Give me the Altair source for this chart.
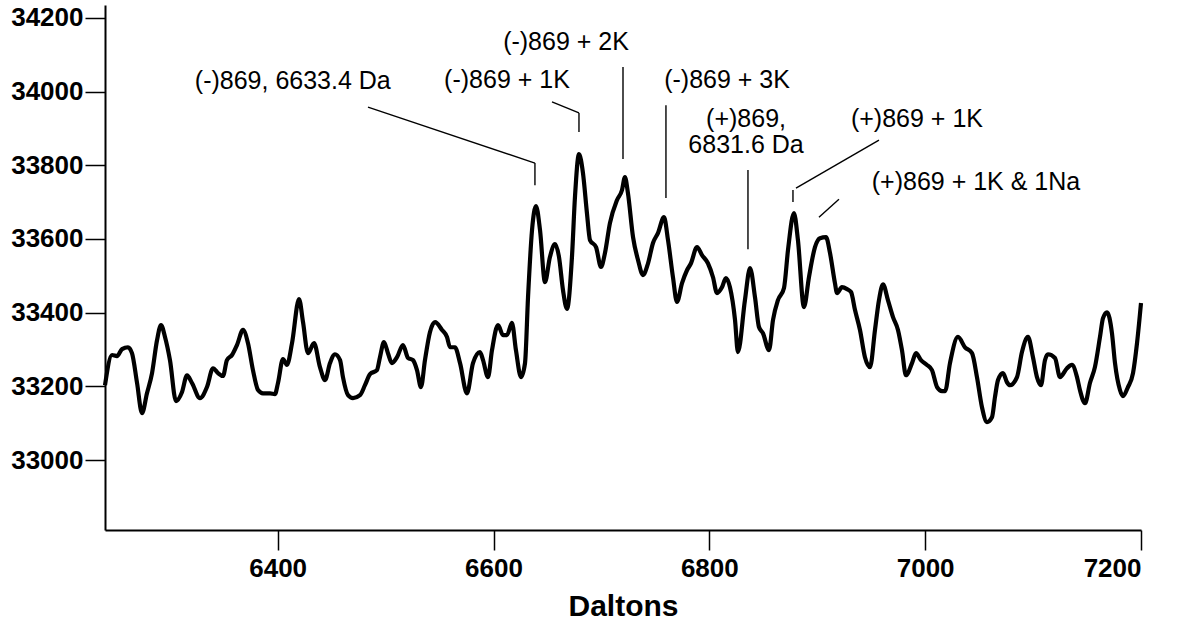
import altair as alt
import pandas as pd

# ---- spectrum trace ----
daltons = [6240, 6246.5, 6251.1, 6255.8, 6261.3, 6265.0, 6269.7, 6274.3, 6278.9, 6283.6,
           6288.2, 6291.9, 6295.6, 6300.2, 6305.8, 6311.3, 6316.0, 6320.6, 6328.0, 6334.5,
           6340.1, 6344.7, 6349.3, 6353.0, 6357.7, 6362.3, 6367.9, 6372.5, 6377.1, 6381.8,
           6386.4, 6392.9, 6397.5, 6400.3, 6404.9, 6408.6, 6413.3, 6419.8, 6423.5, 6428.1,
           6433.7, 6439.2, 6443.9, 6448.5, 6453.1, 6457.8, 6460.5, 6465.2, 6469.8, 6476.3,
           6480.9, 6485.6, 6492.0, 6494.8, 6498.5, 6502.2, 6505.9, 6510.6, 6516.1, 6520.8,
           6525.4, 6529.1, 6532.8, 6536.5, 6541.1, 6545.8, 6552.3, 6556.9, 6559.7, 6564.3,
           6569.0, 6575.4, 6581.0, 6587.5, 6590.3, 6594.9, 6598.6, 6604.2, 6608.8, 6612.5,
           6617.1, 6620.8, 6625.5, 6629.2, 6632.0, 6635.7, 6639.4, 6643.1, 6647.7, 6652.3,
           6657.0, 6660.7, 6664.4, 6668.1, 6672.7, 6675.5, 6679.2, 6682.9, 6686.6, 6689.4,
           6695.0, 6699.6, 6703.3, 6707.9, 6714.4, 6719.1, 6721.8, 6724.6, 6729.3, 6733.9,
           6738.5, 6743.2, 6747.8, 6752.4, 6758.0, 6761.7, 6766.3, 6770.0, 6774.7, 6779.3,
           6783.0, 6788.6, 6793.2, 6798.7, 6803.4, 6807.1, 6811.7, 6815.4, 6819.1, 6823.8,
           6826.5, 6833.0, 6837.7, 6842.3, 6846.0, 6849.7, 6855.3, 6859.0, 6863.6, 6869.2,
           6872.9, 6878.4, 6882.1, 6887.7, 6892.3, 6897.9, 6902.5, 6908.1, 6911.8, 6916.4,
           6918.3, 6922.9, 6927.6, 6931.3, 6935.0, 6939.6, 6944.2, 6948.9, 6953.5, 6957.2,
           6960.9, 6965.5, 6970.2, 6974.8, 6978.5, 6982.2, 6987.8, 6991.5, 6996.1, 7001.7,
           7006.3, 7011.0, 7015.6, 7018.5, 7023.0, 7030.4, 7036.9, 7043.4, 7048.0, 7052.6,
           7057.3, 7061.9, 7064.7, 7067.5, 7072.1, 7075.8, 7078.6, 7085.1, 7089.7, 7095.3,
           7099.9, 7103.6, 7107.3, 7111.0, 7113.8, 7120.3, 7124.9, 7131.4, 7136.0, 7140.7,
           7143.4, 7148.1, 7152.7, 7157.3, 7162.0, 7164.8, 7168.5, 7173.1, 7175.9, 7180.5,
           7183.3, 7187.9, 7192.6, 7196.3, 7200.0]
intensity = [33203, 33285, 33282, 33301, 33306, 33290, 33209, 33127, 33181, 33236,
             33325, 33366, 33334, 33271, 33160, 33184, 33230, 33209, 33168, 33198,
             33249, 33236, 33228, 33271, 33285, 33312, 33353, 33317, 33244, 33190,
             33181, 33181, 33179, 33209, 33274, 33258, 33317, 33437, 33374, 33290,
             33317, 33252, 33217, 33263, 33287, 33271, 33225, 33176, 33168, 33176,
             33203, 33233, 33244, 33279, 33320, 33290, 33263, 33279, 33312, 33277,
             33271, 33244, 33198, 33271, 33347, 33374, 33353, 33334, 33306, 33306,
             33263, 33181, 33263, 33293, 33271, 33225, 33298, 33366, 33339, 33339,
             33372, 33298, 33225, 33263, 33442, 33624, 33689, 33624, 33483, 33551,
             33586, 33551, 33461, 33410, 33551, 33714, 33830, 33779, 33670, 33597,
             33578, 33524, 33562, 33643, 33705, 33733, 33768, 33724, 33605, 33543,
             33502, 33534, 33589, 33616, 33659, 33597, 33496, 33429, 33480, 33515,
             33534, 33578, 33556, 33534, 33496, 33453, 33469, 33494, 33469, 33380,
             33293, 33434, 33521, 33442, 33361, 33344, 33298, 33380, 33434, 33467,
             33570, 33670, 33597, 33415, 33496, 33578, 33602, 33605, 33562, 33480,
             33453, 33469, 33464, 33456, 33407, 33353, 33279, 33252, 33353, 33434,
             33477, 33434, 33388, 33353, 33298, 33230, 33263, 33290, 33271, 33258,
             33244, 33198, 33187, 33187, 33263, 33334, 33306, 33290, 33225, 33144,
             33103, 33116, 33171, 33217, 33236, 33211, 33203, 33225, 33293, 33334,
             33279, 33225, 33203, 33271, 33287, 33277, 33225, 33249, 33258, 33225,
             33190, 33154, 33209, 33252, 33334, 33385, 33401, 33344, 33263, 33190,
             33173, 33198, 33236, 33317, 33426]

# ---- peak labels ----
label_text = ["(-)869, 6633.4 Da", "(-)869 + 1K", "(-)869 + 2K", "(-)869 + 3K",
              "(+)869,", "6831.6 Da", "(+)869 + 1K", "(+)869 + 1K & 1Na"]
label_x = [6414, 6612.5, 6667.2, 6816.4, 6834, 6834, 6992.4, 7047.1]
label_y = [34007, 34010, 34113, 34010, 33904, 33833, 33904, 33733]

# ---- leader lines (segments) ----
lead_x1 = [6483.7, 6638.4, 6654.2, 6679.2, 6720.0, 6759.8, 6835.8, 6957.2, 6877.5, 6920.1]
lead_y1 = [33958, 33806, 33972, 33942, 34067, 33963, 33787, 33868, 33733, 33708]
lead_x2 = [6638.4, 6638.4, 6679.2, 6679.2, 6720.0, 6759.8, 6835.8, 6880.3, 6877.5, 6901.6]
lead_y2 = [33806, 33746, 33942, 33890, 33817, 33711, 33572, 33738, 33700, 33659]

x_ticks = [6400, 6600, 6800, 7000, 7200]
y_ticks = [33000, 33200, 33400, 33600, 33800, 34000, 34200]

spec = pd.DataFrame({"Daltons": daltons, "Intensity": intensity})
labels = pd.DataFrame({"text": label_text, "x": label_x, "y": label_y})
leads = pd.DataFrame({"x": lead_x1, "y": lead_y1, "x2": lead_x2, "y2": lead_y2})

FONT = "Liberation Sans"
xscale = alt.Scale(domain=[6240, 7200], nice=False, zero=False)
yscale = alt.Scale(domain=[32810, 34235], nice=False, zero=False)

line = alt.Chart(spec).mark_line(
    color="black", strokeWidth=4.2, interpolate="monotone"
).encode(
    x=alt.X("Daltons:Q", scale=xscale,
            axis=alt.Axis(values=x_ticks, title="Daltons", format="d",
                          titleFontSize=30, titleFontWeight="bold",
                          titleFont=FONT, titleColor="black", titlePadding=10,
                          labelPadding=5)),
    y=alt.Y("Intensity:Q", scale=yscale,
            axis=alt.Axis(values=y_ticks, title=None, format="d", labelPadding=2)),
)

rules = alt.Chart(leads).mark_rule(color="black", strokeWidth=1.4).encode(
    x=alt.X("x:Q", scale=xscale), y=alt.Y("y:Q", scale=yscale),
    x2="x2:Q", y2="y2:Q",
)

texts = alt.Chart(labels).mark_text(
    font=FONT, fontSize=25, color="black", align="center", baseline="alphabetic"
).encode(
    x=alt.X("x:Q", scale=xscale), y=alt.Y("y:Q", scale=yscale), text="text:N"
)

chart = alt.layer(line, rules, texts).properties(
    width=1036, height=525,
    autosize=alt.AutoSizeParams(type="none"),
    padding={"left": 105, "top": 5, "right": 38, "bottom": 93},
    background="white",
).configure_view(stroke=None).configure_axis(
    grid=False, domainColor="black", domainWidth=2, tickColor="black",
    tickWidth=1.5, tickSize=20, labelFont=FONT, labelFontSize=26,
    labelFontWeight="bold", labelColor="black",
)

chart.save("out.html", embed_options={"renderer": "svg", "actions": False})
